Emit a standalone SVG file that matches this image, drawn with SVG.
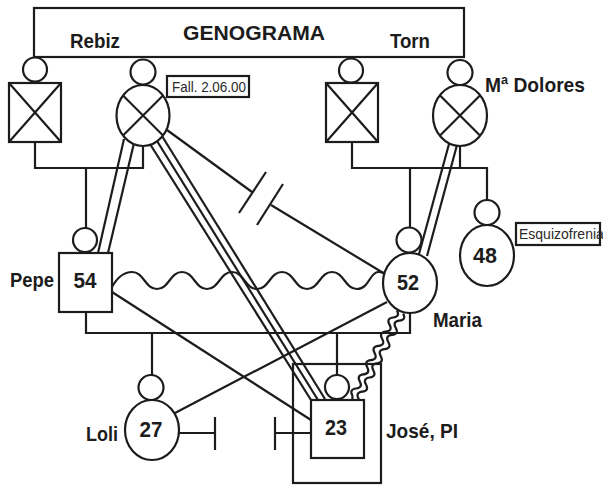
<svg xmlns="http://www.w3.org/2000/svg" width="603" height="486" viewBox="0 0 603 486">
<style>
  .s{fill:none;stroke:#1c1c1c;stroke-width:2.2}
  .w{fill:#fff;stroke:#1c1c1c;stroke-width:2.2}
  .lb{font-family:"Liberation Sans",Arial,sans-serif;font-weight:bold;font-size:21px;fill:#1c1c1c}
  .num{font-family:"Liberation Sans",Arial,sans-serif;font-weight:bold;font-size:22px;fill:#1c1c1c;text-anchor:middle}
  .sm{font-family:"Liberation Sans",Arial,sans-serif;font-size:14px;fill:#2a2a2a}
</style>
<rect width="603" height="486" fill="#fff"/>

<g id="title">
  <rect class="s" x="34" y="8" width="430" height="49"/>
  <text class="lb" x="183" y="40" font-size="22" textLength="142" lengthAdjust="spacingAndGlyphs">GENOGRAMA</text>
  <text class="lb" x="70" y="48" textLength="50" lengthAdjust="spacingAndGlyphs">Rebiz</text>
  <text class="lb" x="390" y="48" textLength="40" lengthAdjust="spacingAndGlyphs">Torn</text>
</g>

<g id="connectors">
  <polyline class="s" points="35,142 35,168 143,168 143,146"/>
  <line class="s" x1="86" y1="168" x2="86" y2="228"/>
  <polyline class="s" points="352,142 352,168 487,168 487,200"/>
  <line class="s" x1="460" y1="146" x2="460" y2="168"/>
  <line class="s" x1="410" y1="168" x2="410" y2="228"/>
  <polyline class="s" points="86,312 86,333 410,333 410,313"/>
  <line class="s" x1="152" y1="333" x2="152" y2="375"/>
  <line class="s" x1="337" y1="333" x2="337" y2="375"/>
  <rect class="s" x="293" y="364" width="88" height="119"/>
  <line class="s" x1="124" y1="139" x2="98" y2="253"/>
  <line class="s" x1="134" y1="143" x2="108" y2="253"/>
  <line class="s" x1="449" y1="144" x2="419" y2="254"/>
  <line class="s" x1="457" y1="145" x2="427" y2="256"/>
  <line class="s" x1="150" y1="144" x2="311" y2="400"/>
  <line class="s" x1="157" y1="141" x2="318" y2="400"/>
  <line class="s" x1="162" y1="136" x2="325" y2="399"/>
  <line class="s" x1="167" y1="130" x2="252" y2="192"/>
  <line class="s" x1="266" y1="172" x2="239" y2="213"/>
  <line class="s" x1="283" y1="184" x2="257" y2="225"/>
  <line class="s" x1="271" y1="205" x2="385" y2="274"/>
  <path class="s" d="M112,287 C117,278 124,272 132,272 C144,272 145,289 157,289 S170,272 182,272 S195,289 207,289 S220,272 232,272 S245,289 257,289 S270,272 282,272 S295,289 307,289 S320,272 332,272 S345,289 357,289 S370,272 378,272 S383,274 385,277"/>
  <line class="s" x1="112" y1="292" x2="311" y2="420"/>
  <line class="s" x1="387" y1="302" x2="175" y2="413"/>
  <path class="s" d="M396.9,310.4 Q400.4,316.7 393.2,317.5 T389.5,324.6 T385.8,331.7 T382.1,338.8 T378.4,345.9 T374.6,353 T370.9,360.1 T367.2,367.2 T363.5,374.3 T359.8,381.4 T356.1,388.5 T352.4,395.6 L352.4,400"/>
  <path class="s" d="M403.1,313.6 Q406.6,319.9 399.4,320.7 T395.7,327.8 T392,334.9 T388.3,342 T384.6,349.1 T380.8,356.2 T377.1,363.3 T373.4,370.4 T369.7,377.5 T366,384.6 T362.3,391.7 T358.6,398.8 L358.6,400"/>
  <line class="s" x1="179" y1="433" x2="215" y2="433"/>
  <line class="s" x1="215" y1="417" x2="215" y2="450"/>
  <line class="s" x1="311" y1="433" x2="275" y2="433"/>
  <line class="s" x1="275" y1="417" x2="275" y2="450"/>
</g>

<g id="rebiz-father">
  <circle class="w" cx="35" cy="69.5" r="12"/>
  <rect class="w" x="9" y="83" width="52" height="59"/>
  <line class="s" x1="9" y1="83" x2="61" y2="142"/>
  <line class="s" x1="61" y1="83" x2="9" y2="142"/>
</g>

<g id="rebiz-mother">
  <circle class="w" cx="143" cy="72" r="12.5"/>
  <ellipse class="w" cx="143" cy="115.5" rx="26.5" ry="30.5"/>
  <line class="s" x1="123" y1="95.5" x2="163" y2="135.5"/>
  <line class="s" x1="163" y1="95.5" x2="123" y2="135.5"/>
  <rect class="s" x="167" y="76" width="82" height="21"/>
  <text class="sm" x="172" y="92" textLength="74" lengthAdjust="spacingAndGlyphs">Fall. 2.06.00</text>
</g>

<g id="torn-father">
  <circle class="w" cx="351" cy="70.5" r="12"/>
  <rect class="w" x="326" y="83" width="52" height="59"/>
  <line class="s" x1="326" y1="83" x2="378" y2="142"/>
  <line class="s" x1="378" y1="83" x2="326" y2="142"/>
</g>

<g id="ma-dolores">
  <circle class="w" cx="460" cy="72.5" r="12.5"/>
  <ellipse class="w" cx="460" cy="115.5" rx="27" ry="30.5"/>
  <line class="s" x1="439.8" y1="95.3" x2="480.2" y2="135.7"/>
  <line class="s" x1="480.2" y1="95.3" x2="439.8" y2="135.7"/>
  <text class="lb" x="485" y="92" textLength="100" lengthAdjust="spacingAndGlyphs">Mª Dolores</text>
</g>

<g id="pepe">
  <circle class="w" cx="85" cy="240" r="12"/>
  <rect class="w" x="59" y="253" width="53" height="59"/>
  <text class="num" x="85" y="288" textLength="23" lengthAdjust="spacingAndGlyphs">54</text>
  <text class="lb" x="10" y="287" textLength="44" lengthAdjust="spacingAndGlyphs">Pepe</text>
</g>

<g id="maria">
  <circle class="w" cx="409" cy="240" r="12.5"/>
  <ellipse class="w" cx="410" cy="283" rx="27" ry="30"/>
  <text class="num" x="408" y="290" textLength="22" lengthAdjust="spacingAndGlyphs">52</text>
  <text class="lb" x="433" y="327" textLength="49" lengthAdjust="spacingAndGlyphs">Maria</text>
</g>

<g id="sister-48">
  <circle class="w" cx="487" cy="212.5" r="12.5"/>
  <ellipse class="w" cx="487" cy="255.5" rx="27" ry="30.5"/>
  <text class="num" x="485" y="263" textLength="24" lengthAdjust="spacingAndGlyphs">48</text>
  <rect class="s" x="516" y="223" width="84" height="22"/>
  <text class="sm" x="519" y="239" font-size="13">Esquizofrenia</text>
</g>

<g id="loli">
  <circle class="w" cx="151" cy="387.5" r="12.5"/>
  <ellipse class="w" cx="152" cy="430" rx="27" ry="30"/>
  <text class="num" x="151" y="437" textLength="23" lengthAdjust="spacingAndGlyphs">27</text>
  <text class="lb" x="86" y="441" textLength="32" lengthAdjust="spacingAndGlyphs">Loli</text>
</g>

<g id="jose">
  <circle class="w" cx="337" cy="387" r="12"/>
  <rect class="w" x="311" y="400" width="53" height="58"/>
  <text class="num" x="336" y="435" textLength="22" lengthAdjust="spacingAndGlyphs">23</text>
  <text class="lb" x="386" y="438" textLength="72" lengthAdjust="spacingAndGlyphs">José, PI</text>
</g>
</svg>
